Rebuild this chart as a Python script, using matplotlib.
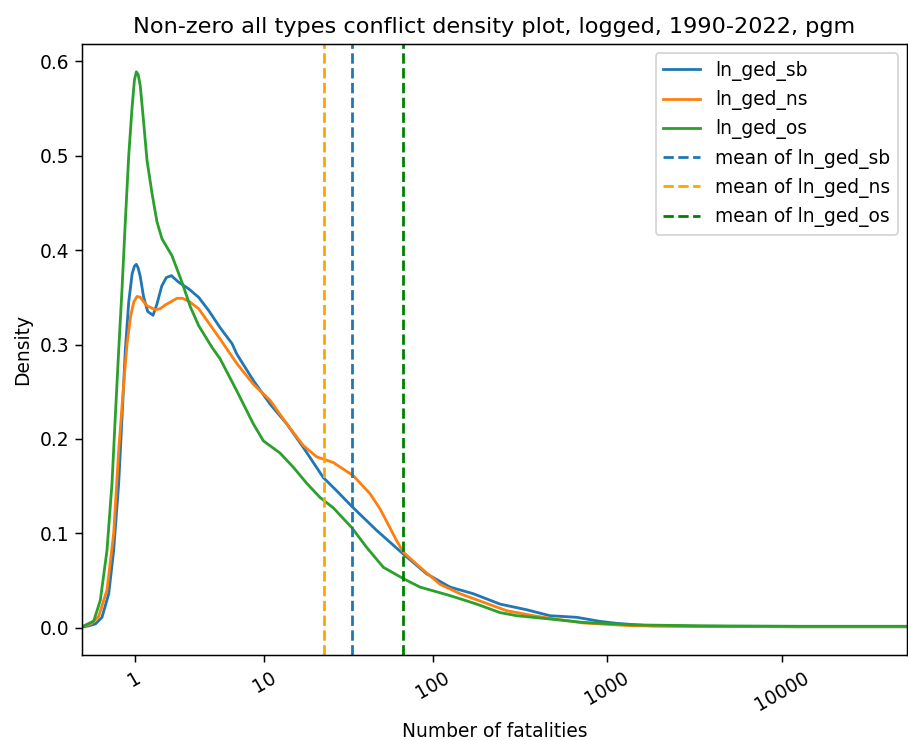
import numpy as np
import matplotlib
matplotlib.use("Agg")
import matplotlib.pyplot as plt

# x values are ln(fatalities + 1)
sb_x = [0.0, 0.088, 0.177, 0.263, 0.352, 0.417, 0.483, 0.527, 0.570, 0.615, 0.660, 0.690, 0.715,
        0.740, 0.767, 0.812, 0.865, 0.935, 0.987, 1.050, 1.110, 1.176, 1.273, 1.405, 1.536, 1.668,
        1.817, 1.975, 2.037, 2.255, 2.475, 2.695, 2.913, 3.177, 3.353, 3.558, 3.880, 4.230, 4.538,
        4.845, 5.151, 5.503, 5.854, 6.161, 6.513, 6.819, 7.039, 7.478, 8.136, 9.453, 10.86]
sb_y = [0.0005, 0.002, 0.004, 0.011, 0.036, 0.082, 0.153, 0.223, 0.294, 0.345, 0.375, 0.383, 0.385,
        0.381, 0.372, 0.350, 0.335, 0.331, 0.343, 0.362, 0.371, 0.373, 0.366, 0.359, 0.350, 0.336,
        0.318, 0.301, 0.290, 0.262, 0.237, 0.216, 0.191, 0.159, 0.145, 0.128, 0.103, 0.078, 0.057,
        0.043, 0.036, 0.025, 0.019, 0.0127, 0.011, 0.0067, 0.0046, 0.002, 0.0015, 0.001, 0.001]

ns_x = [0.0, 0.120, 0.220, 0.329, 0.417, 0.483, 0.549, 0.592, 0.640, 0.681, 0.724, 0.767, 0.856,
        0.965, 1.030, 1.097, 1.251, 1.320, 1.405, 1.536, 1.711, 1.817, 2.037, 2.255, 2.475, 2.695,
        2.913, 3.090, 3.308, 3.572, 3.791, 3.923, 4.143, 4.230, 4.450, 4.713, 4.976, 5.283, 5.591,
        5.942, 6.161, 6.600, 7.254, 8.136, 9.453, 10.86]
ns_y = [0.001, 0.004, 0.012, 0.040, 0.100, 0.188, 0.258, 0.300, 0.330, 0.345, 0.351, 0.350, 0.341,
        0.337, 0.338, 0.342, 0.349, 0.349, 0.346, 0.338, 0.318, 0.306, 0.280, 0.258, 0.241, 0.216,
        0.193, 0.181, 0.175, 0.161, 0.142, 0.126, 0.092, 0.080, 0.064, 0.046, 0.036, 0.027, 0.018,
        0.0127, 0.010, 0.005, 0.002, 0.0015, 0.001, 0.001]

os_x = [0.0, 0.154, 0.241, 0.329, 0.395, 0.438, 0.483, 0.527, 0.570, 0.615, 0.658, 0.690, 0.715,
        0.740, 0.767, 0.812, 0.856, 0.922, 0.987, 1.053, 1.185, 1.316, 1.426, 1.536, 1.711, 1.817,
        2.037, 2.255, 2.387, 2.607, 2.782, 2.958, 3.133, 3.308, 3.551, 3.748, 3.967, 4.230, 4.450,
        4.845, 5.196, 5.502, 5.723, 6.161, 6.596, 7.254, 8.136, 9.453, 10.86]
os_y = [0.001, 0.007, 0.029, 0.082, 0.153, 0.223, 0.294, 0.359, 0.430, 0.500, 0.550, 0.580, 0.589,
        0.586, 0.574, 0.535, 0.495, 0.460, 0.430, 0.412, 0.394, 0.366, 0.340, 0.320, 0.297, 0.285,
        0.251, 0.216, 0.198, 0.185, 0.170, 0.153, 0.138, 0.127, 0.106, 0.085, 0.064, 0.052, 0.043,
        0.034, 0.025, 0.016, 0.0127, 0.0092, 0.0056, 0.003, 0.002, 0.0015, 0.0015]

mean_sb = 3.558
mean_ns = 3.186
mean_os = 4.230

tick_values = [1, 10, 100, 1000, 10000]
tick_labels = ["1", "10", "100", "1000", "10000"]

D = 134
fig = plt.figure(figsize=(908 / D, 740 / D), dpi=D)
ax = fig.add_axes([82 / 908, 1 - 655 / 740, (907 - 82) / 908, (655 - 44) / 740])

ax.plot(sb_x, sb_y, color="C0", label="ln_ged_sb")
ax.plot(ns_x, ns_y, color="C1", label="ln_ged_ns")
ax.plot(os_x, os_y, color="C2", label="ln_ged_os")
ax.axvline(mean_sb, color="C0", linestyle="--", label="mean of ln_ged_sb")
ax.axvline(mean_ns, color="orange", linestyle="--", label="mean of ln_ged_ns")
ax.axvline(mean_os, color="green", linestyle="--", label="mean of ln_ged_os")

ax.set_xlim(0, 10.86)
ax.set_xticks(np.log1p(tick_values))
ax.set_xticklabels(tick_labels, rotation=30)
ax.set_xlabel("Number of fatalities")
ax.set_ylabel("Density")
ax.set_title("Non-zero all types conflict density plot, logged, 1990-2022, pgm")
ax.legend(loc="upper right")

fig.savefig("out.png", dpi=D)
